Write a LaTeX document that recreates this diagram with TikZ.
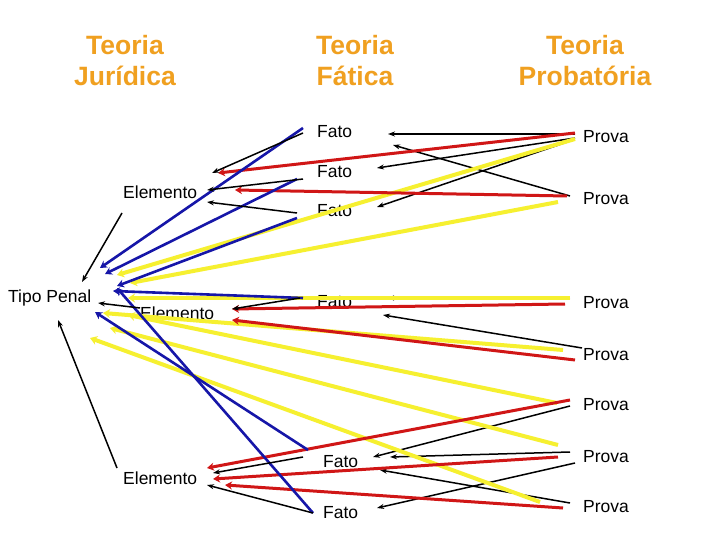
\documentclass[tikz,border=0pt]{standalone}
\usepackage{fontspec}
\setmainfont{Liberation Sans}
\usetikzlibrary{arrows.meta}
\definecolor{hdr}{RGB}{240,160,32}
\definecolor{lred}{RGB}{208,22,22}
\definecolor{lblue}{RGB}{22,22,168}
\definecolor{lyel}{RGB}{246,240,48}
\begin{document}
\begin{tikzpicture}[x=1pt,y=-1pt,
  lbl/.style={font=\fontsize{17.5}{20}\selectfont, anchor=base west, inner sep=0pt},
  hd/.style={font=\bfseries\fontsize{26.5}{30}\selectfont, text=hdr, anchor=base, inner sep=0pt},
  blk/.style={black, line width=1.5pt, -{Stealth[length=7pt,width=5pt]}},
  rline/.style={lred, line width=3pt, -{Stealth[length=7pt,width=8pt]}},
  bline/.style={lblue, line width=2.6pt, -{Stealth[length=7pt,width=8pt]}},
  yline/.style={lyel, line width=4pt, -{Stealth[length=7pt,width=9pt]}}]
\useasboundingbox (0,0) rectangle (720,540);
\fill[white] (0,0) rectangle (720,540);

% headings
\node[hd] (hj1) at (125,55) {Teoria};
\node[hd] (hj2) at (125,86) {Jurídica};
\node[hd] (hf1) at (355,55) {Teoria};
\node[hd] (hf2) at (355,86) {Fática};
\node[hd] (hp1) at (585,55) {Teoria};
\node[hd] (hp2) at (585,86) {Probatória};

% labels
\node[lbl] (tp) at (8,302) {Tipo Penal};
\node[lbl] (e1) at (123,199) {Elemento};
\node[lbl] (e2) at (140,319) {Elemento};
\node[lbl] (e3) at (123,484) {Elemento};
\node[lbl] (f1) at (317,138) {Fato};
\node[lbl] (f2) at (317,178) {Fato};
\node[lbl] (f3) at (317,217) {Fato};
\node[lbl] (f4) at (317,307) {Fato};
\node[lbl] (f5) at (323,467) {Fato};
\node[lbl] (f6) at (323,518) {Fato};
\node[lbl] (p1) at (583,143) {Prova};
\node[lbl] (p2) at (583,205) {Prova};
\node[lbl] (p3) at (583,308) {Prova};
\node[lbl] (p4) at (583,360) {Prova};
\node[lbl] (p5) at (583,410) {Prova};
\node[lbl] (p6) at (583,462) {Prova};
\node[lbl] (p7) at (583,512) {Prova};

% connector end points
\path (575,139) coordinate (y1s) (117,275) coordinate (y1e)
      (558,202) coordinate (y2s) (130,283) coordinate (y2e)
      (570,298) coordinate (y3s) (128,298) coordinate (y3e)
      (563,350) coordinate (y4s) (103,313) coordinate (y4e)
      (557,403) coordinate (y5s) (128,315) coordinate (y5e)
      (558,445) coordinate (y6s) (110,328) coordinate (y6e)
      (540,502) coordinate (y7s) (90,338) coordinate (y7e);
\path (575,133) coordinate (r1s) (218,173) coordinate (r1e)
      (567,196) coordinate (r2s) (235,190) coordinate (r2e)
      (565,304) coordinate (r3s) (232,309) coordinate (r3e)
      (575,360) coordinate (r4s) (232,320) coordinate (r4e)
      (570,400) coordinate (r5s) (207,468) coordinate (r5e)
      (558,457) coordinate (r6s) (213,479) coordinate (r6e)
      (563,508) coordinate (r7s) (225,485) coordinate (r7e);
\path (303,128) coordinate (b1s) (100,268) coordinate (b1e)
      (297,179) coordinate (b2s) (105,274) coordinate (b2e)
      (297,218) coordinate (b3s) (117,286) coordinate (b3e)
      (303,298) coordinate (b4s) (113,291) coordinate (b4e)
      (308,450) coordinate (b5s) (95,312) coordinate (b5e)
      (313,513) coordinate (b6s) (117,288) coordinate (b6e);
\path (303,133) coordinate (k1s) (212,173) coordinate (k1e)
      (303,179) coordinate (k2s) (207,190) coordinate (k2e)
      (297,213) coordinate (k3s) (207,202) coordinate (k3e)
      (122,213) coordinate (k4s) (82,282) coordinate (k4e)
      (140,308) coordinate (k5s) (98,303) coordinate (k5e)
      (117,468) coordinate (k6s) (58,320) coordinate (k6e)
      (300,298) coordinate (k7s) (232,309) coordinate (k7e)
      (303,457) coordinate (k8s) (213,473) coordinate (k8e)
      (313,513) coordinate (k9s) (207,485) coordinate (k9e)
      (575,134) coordinate (k10s) (388,134) coordinate (k10e)
      (575,138) coordinate (k11s) (377,168) coordinate (k11e)
      (573,140) coordinate (k12s) (377,207) coordinate (k12e)
      (570,196) coordinate (k13s) (393,145) coordinate (k13e)
      (570,298) coordinate (k14s) (387,298) coordinate (k14e)
      (582,348) coordinate (k15s) (383,315) coordinate (k15e)
      (570,406) coordinate (k16s) (373,457) coordinate (k16e)
      (570,452) coordinate (k17s) (390,457) coordinate (k17e)
      (575,463) coordinate (k18s) (377,508) coordinate (k18e)
      (570,503) coordinate (k19s) (380,470) coordinate (k19e);

% black connectors (under)
\foreach \i in {10,11,12,13,14,15,16,17,18,19}
  \draw[blk] (k\i s) -- (k\i e);
% yellow
\foreach \i in {1,...,7}
  \draw[yline] (y\i s) -- (y\i e);
% red
\foreach \i in {1,...,7}
  \draw[rline] (r\i s) -- (r\i e);
% blue
\foreach \i in {1,...,6}
  \draw[bline] (b\i s) -- (b\i e);
% black connectors (left side)
\foreach \i in {1,...,9}
  \draw[blk] (k\i s) -- (k\i e);
\end{tikzpicture}
\end{document}
